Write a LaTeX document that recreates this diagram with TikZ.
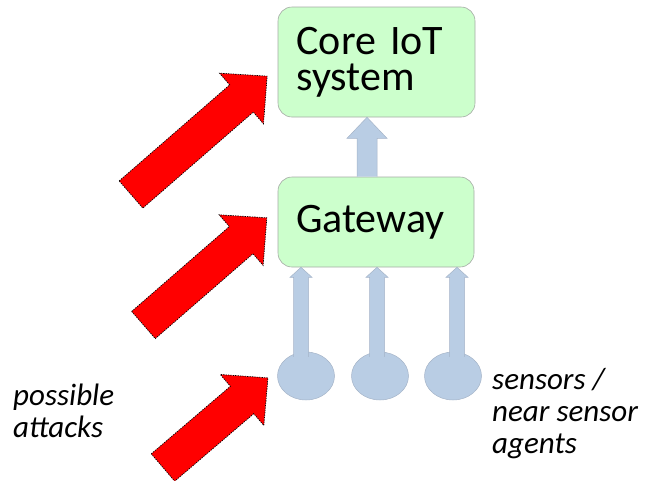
\documentclass[tikz,border=0pt]{standalone}
\usepackage{fontspec}
\setmainfont{Carlito}
\usetikzlibrary{calc,shapes.geometric}

\definecolor{boxgreen}{RGB}{204,255,204}
\definecolor{boxline}{RGB}{165,170,165}
\definecolor{liftblue}{RGB}{185,205,228}
\definecolor{liftedge}{RGB}{165,180,200}
\definecolor{attackred}{RGB}{255,0,0}

\tikzset{
  sysbox/.style={draw=boxline, line width=0.6pt, fill=boxgreen, rounded corners=14pt,
    align=left, text width=160pt, inner sep=0pt,
    font=\fontsize{42pt}{36pt}\selectfont},
  sensor/.style={ellipse, draw=liftedge, line width=0.5pt, fill=liftblue,
    minimum width=57pt, minimum height=48pt, inner sep=0pt},
  liftfill/.style={fill=liftblue},
  liftline/.style={draw=liftedge, line width=0.5pt},
  attackshape/.style={fill=attackred, draw=black, line width=0.7pt,
    dash pattern=on 1.3pt off 1.1pt, line join=miter},
  caption/.style={align=left, inner sep=0pt,
    font=\fontsize{31pt}{32pt}\selectfont\itshape},
}

% upward block arrow: #1 base point, #2 tip point (x of the tip is used),
% #3 half shaft width, #4 half head width, #5 head length
\newcommand\liftarrow[5]{%
  \fill[liftfill] let \p1=(#1), \p2=(#2) in
    (\x2-#3,\y1) -- (\x2-#3,\y2-#5) -- (\x2-#4,\y2-#5) -- (\x2,\y2)
    -- (\x2+#4,\y2-#5) -- (\x2+#3,\y2-#5) -- (\x2+#3,\y1) -- cycle;
  \draw[liftline] let \p1=(#1), \p2=(#2) in
    (\x2-#3,\y1) -- (\x2-#3,\y2-#5) -- (\x2-#4,\y2-#5) -- (\x2,\y2)
    -- (\x2+#4,\y2-#5) -- (\x2+#3,\y2-#5) -- (\x2+#3,\y1);
}

% red attack arrow: #1 tail middle, #2 angle, #3 length
\newcommand\attackarrow[3]{%
  \begin{scope}[shift={#1}, rotate=#2]
    \draw[attackshape] (0,-18) -- (#3-34,-18) -- (#3-34,-33.5) -- (#3,0)
      -- (#3-34,33.5) -- (#3-34,18) -- (0,18) -- cycle;
  \end{scope}
}

\begin{document}
\begin{tikzpicture}[x=1pt, y=-1pt]
  \useasboundingbox (0,0) rectangle (645,480);

  % system blocks
  \node[sysbox, minimum width=197pt, minimum height=110pt] (core) at (376.5,62) {Core IoT\\system};
  \node[sysbox, minimum width=196pt, minimum height=90pt] (gw) at (376,222) {Gateway};

  % sensors
  \node[sensor] (s1) at (306,376) {};
  \node[sensor] (s2) at (380,376) {};
  \node[sensor] (s3) at (453,376) {};

  % arrow tips on the gateway and core edges
  \coordinate (t1) at ($(gw.south)+(-75,0)$);
  \coordinate (t2) at ($(gw.south)+(1,0)$);
  \coordinate (t3) at ($(gw.south)+(81,0)$);
  \coordinate (tc) at ($(core.south)+(-9.5,0)$);

  \liftarrow{$(s1.north)+(0,5)$}{t1}{7.5pt}{11pt}{10pt}
  \liftarrow{$(s2.north)+(0,5)$}{t2}{7.5pt}{11pt}{10pt}
  \liftarrow{$(s3.north)+(0,5)$}{t3}{7.5pt}{11pt}{10pt}
  \liftarrow{gw.north}{tc}{10pt}{20pt}{21pt}

  % attacks
  \attackarrow{(131,194.5)}{41}{180.4}
  \attackarrow{(143.5,325)}{41}{163.4}
  \attackarrow{(163,467.5)}{40.5}{138}

  % captions (base anchor sits on the last line)
  \node[caption, anchor=base west] (atk) at (13,437) {possible\\attacks};
  \node[caption, anchor=base west] (sen) at (492,453) {sensors /\\near sensor\\agents};
\end{tikzpicture}
\end{document}
